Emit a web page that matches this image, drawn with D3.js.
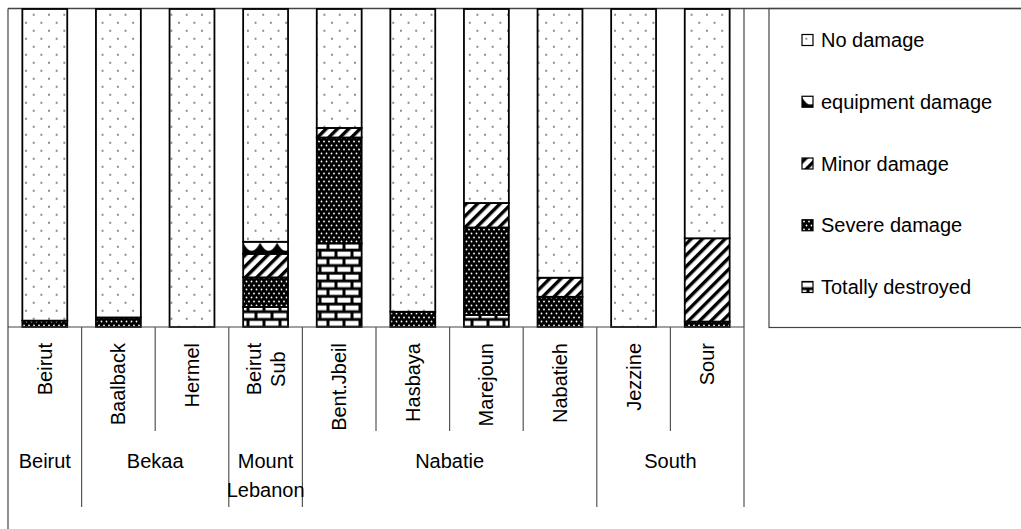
<!DOCTYPE html>
<html><head><meta charset="utf-8">
<script src="https://cdn.jsdelivr.net/npm/d3@7"></script>
<style>body{margin:0;background:#fff}svg{display:block;font-family:"Liberation Sans",Arial,sans-serif}</style>
</head><body>
<svg id="c" width="1021" height="529"></svg>
<script>
const categories = ["Beirut","Baalback","Hermel","Beirut\nSub","Bent.Jbeil","Hasbaya","Marejoun","Nabatieh","Jezzine","Sour"];
const groups = ["Beirut","Bekaa","Mount\nLebanon","Nabatie","South"];
const groupSizes = [1,2,1,4,2];
const seriesNames = ["Totally destroyed","Severe damage","Minor damage","equipment damage","No damage"];
const totallyDestroyed = [0,0,0,6.3,26.3,0,3.8,0,0,0];
const severeDamage     = [2,3,0,9.3,33.3,4.8,27.5,9.5,0,1.7];
const minorDamage      = [0,0,0,7.4,3,0,7.7,6,0,26.2];
const equipmentDamage  = [0,0,0,3.8,0,0,0,0,0,0];
const noDamage         = [98,97,100,73.2,37.4,95.2,61,84.5,100,72.1];
const legendOrder = ["No damage","equipment damage","Minor damage","Severe damage","Totally destroyed"];

const seriesArrays = [totallyDestroyed, severeDamage, minorDamage, equipmentDamage, noDamage];
const rows = categories.map((c,i)=>{const r={cat:c}; seriesNames.forEach((s,j)=>r[s]=seriesArrays[j][i]); return r;});

const svg = d3.select("#c");
const L=8, R=744, TOP=9, BASE=327;
const x = d3.scaleBand().domain(categories).range([L,R]).padding(0);
const y = d3.scaleLinear().domain([0,100]).range([BASE,TOP]);
const barW = x.bandwidth()*0.61;

const defs = svg.append("defs");
// No damage: sparse dots
const pN = defs.append("pattern").attr("id","pNo").attr("patternUnits","userSpaceOnUse")
  .attr("x",29.9).attr("y",10.7).attr("width",15.3).attr("height",16);
pN.append("rect").attr("width",15.3).attr("height",16).attr("fill","#fff");
pN.append("circle").attr("cx",3.8).attr("cy",4).attr("r",0.85).attr("fill","#222");
pN.append("circle").attr("cx",11.45).attr("cy",12).attr("r",0.85).attr("fill","#222");
// Severe: black with white dots
const pS = defs.append("pattern").attr("id","pSev").attr("patternUnits","userSpaceOnUse")
  .attr("width",5).attr("height",8);
pS.append("rect").attr("width",5).attr("height",8).attr("fill","#000");
pS.append("circle").attr("cx",1.5).attr("cy",1.5).attr("r",0.9).attr("fill","#fff");
pS.append("circle").attr("cx",4).attr("cy",5.5).attr("r",0.9).attr("fill","#fff");
// Minor: diagonal stripes
const pM = defs.append("pattern").attr("id","pMin").attr("patternUnits","userSpaceOnUse")
  .attr("width",8).attr("height",8).attr("patternTransform","rotate(45)");
pM.append("rect").attr("width",8).attr("height",8).attr("fill","#fff");
pM.append("rect").attr("width",3.4).attr("height",8).attr("fill","#000");
// Totally destroyed: bricks
const pT = defs.append("pattern").attr("id","pTot").attr("patternUnits","userSpaceOnUse")
  .attr("width",16).attr("height",15.4).attr("y",BASE);
pT.append("rect").attr("width",16).attr("height",15.4).attr("fill","#000");
pT.append("rect").attr("x",1.5).attr("y",1.6).attr("width",13).attr("height",4.8).attr("fill","#fff");
pT.append("rect").attr("x",-6.5).attr("y",9.3).attr("width",13).attr("height",4.8).attr("fill","#fff");
pT.append("rect").attr("x",9.5).attr("y",9.3).attr("width",13).attr("height",4.8).attr("fill","#fff");

let eqId=0;
function equipPattern(x0,y0,h){
  const id="pEq"+(eqId++);
  const w=17;
  const p=defs.append("pattern").attr("id",id).attr("patternUnits","userSpaceOnUse")
    .attr("x",x0).attr("y",y0).attr("width",w).attr("height",Math.max(h,1));
  p.append("rect").attr("width",w).attr("height",h).attr("fill","#fff");
  p.append("path").attr("d",`M0,${h*0.08} Q${w/4},${h*0.75} ${w/2},${h*0.75} Q${w*3/4},${h*0.75} ${w},${h*0.08} V${h} H0 Z`).attr("fill","#000");
  return "url(#"+id+")";
}
const fills = {"No damage":"url(#pNo)","Severe damage":"url(#pSev)","Minor damage":"url(#pMin)","Totally destroyed":"url(#pTot)"};

// frame lines
const frame="#444";
svg.append("line").attr("x1",L).attr("x2",1021).attr("y1",TOP-0.5).attr("y2",TOP-0.5).attr("stroke",frame).attr("stroke-width",1.5);
svg.append("line").attr("x1",L).attr("x2",L).attr("y1",TOP-0.5).attr("y2",529).attr("stroke",frame).attr("stroke-width",1.2);
svg.append("line").attr("x1",R).attr("x2",R).attr("y1",TOP-0.5).attr("y2",BASE).attr("stroke",frame).attr("stroke-width",1.2);

// bars
const stack = d3.stack().keys(seriesNames)(rows);
const gBars = svg.append("g");
stack.forEach(layer=>{
  layer.forEach((d,i)=>{
    const v=d[1]-d[0];
    if(v<=0) return;
    const cat=categories[i];
    const bx=x(cat)+(x.bandwidth()-barW)/2;
    const by=y(d[1]), bh=y(d[0])-y(d[1]);
    const f = layer.key==="equipment damage" ? equipPattern(bx,by,bh) : fills[layer.key];
    gBars.append("rect").attr("x",bx).attr("y",by).attr("width",barW).attr("height",bh)
      .attr("fill",f).attr("stroke","#000").attr("stroke-width",1.8);
  });
});

// baseline & separators
svg.append("line").attr("x1",L).attr("x2",R).attr("y1",BASE).attr("y2",BASE).attr("stroke",frame).attr("stroke-width",1.2);
const bounds = categories.map(c=>x(c)).concat([R]);
const groupBounds = [0]; groupSizes.forEach(s=>groupBounds.push(groupBounds[groupBounds.length-1]+s));
bounds.forEach((bx,i)=>{
  if(i===0) return;
  const long = groupBounds.includes(i);
  svg.append("line").attr("x1",bx).attr("x2",bx).attr("y1",BASE).attr("y2",long?507:431)
    .attr("stroke","#555").attr("stroke-width",1.2);
});

// category labels (rotated)
categories.forEach(c=>{
  const lines=c.split("\n");
  const cx=x(c)+x.bandwidth()/2;
  const g=svg.append("g");
  const texts=lines.map(t=>g.append("text").text(t).attr("font-size",20).attr("text-anchor","middle").attr("dy","0.35em").attr("fill","#000"));
  const maxLen=d3.max(texts,t=>t.node().getComputedTextLength());
  const yc=343+maxLen/2;
  texts.forEach((t,k)=>{
    const off=(k-(lines.length-1)/2)*24;
    t.attr("transform",`translate(${cx+off},${yc}) rotate(-90)`);
  });
});

// group labels
groups.forEach((gname,i)=>{
  const x0=bounds[groupBounds[i]], x1=bounds[groupBounds[i+1]];
  gname.split("\n").forEach((t,k)=>{
    svg.append("text").text(t).attr("x",(x0+x1)/2).attr("y",461+k*29).attr("dy","0.35em")
      .attr("text-anchor","middle").attr("font-size",20).attr("fill","#000");
  });
});

// legend
svg.append("rect").attr("x",769).attr("y",TOP-0.5).attr("width",300).attr("height",BASE+1-TOP)
  .attr("fill","none").attr("stroke",frame).attr("stroke-width",1.2);
const legY = d3.scalePoint().domain(legendOrder).range([40,287]);
legendOrder.forEach(s=>{
  const cy=legY(s);
  const f = s==="equipment damage" ? equipPattern(802,cy-5.5,11) : fills[s];
  svg.append("rect").attr("x",802).attr("y",cy-5.5).attr("width",11).attr("height",11)
    .attr("fill",f).attr("stroke","#000").attr("stroke-width",1.2);
  svg.append("text").text(s).attr("x",821).attr("y",cy).attr("dy","0.35em").attr("font-size",20).attr("fill","#000");
});
</script>
</body></html>
